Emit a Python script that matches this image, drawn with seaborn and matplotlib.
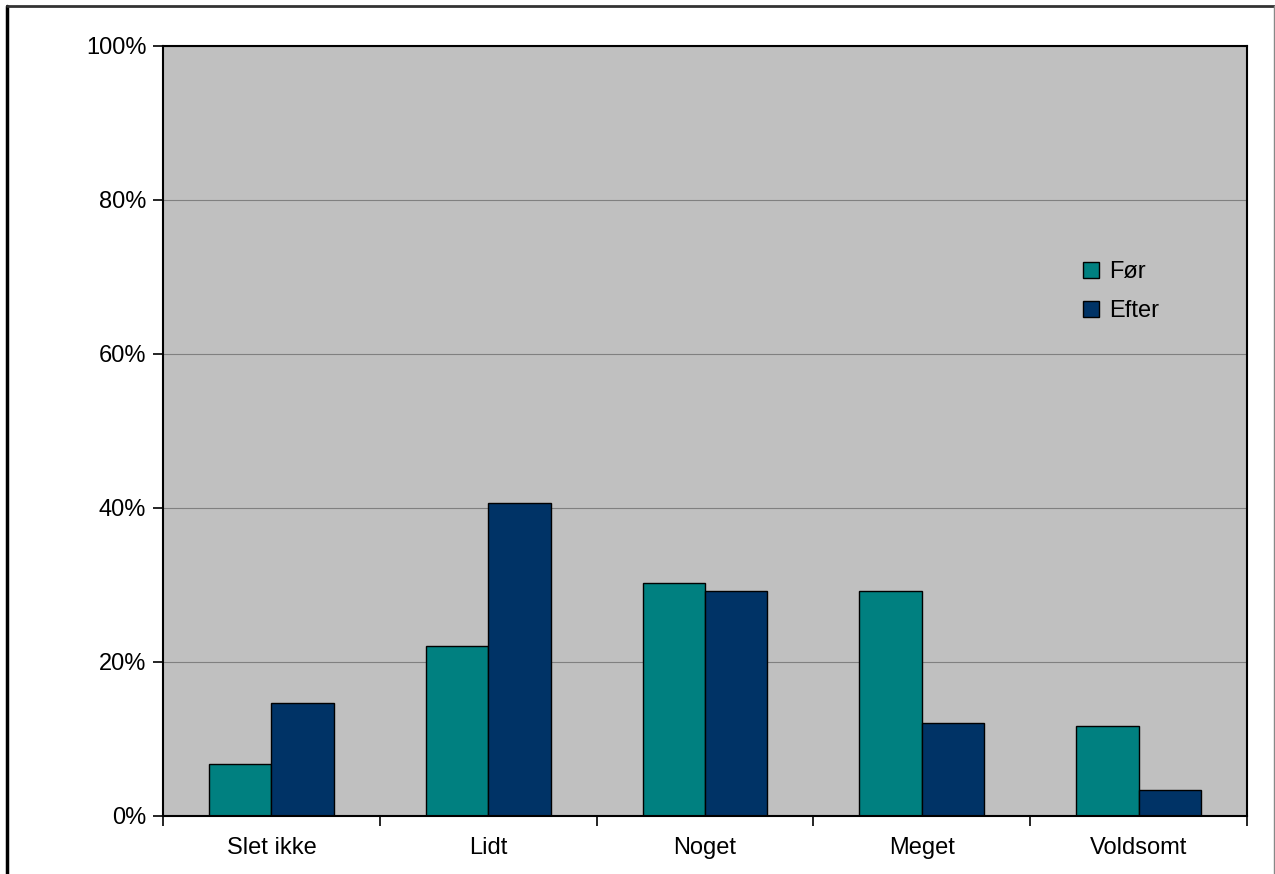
import pandas as pd
import seaborn as sns
import matplotlib.pyplot as plt
from matplotlib.lines import Line2D
from matplotlib.ticker import FuncFormatter

# data (percent)
categories = ["Slet ikke", "Lidt", "Noget", "Meget", "Voldsomt"]
foer = [6.7, 22.1, 30.3, 29.2, 11.7]
efter = [14.7, 40.7, 29.2, 12.1, 3.4]
series = ["Før", "Efter"]
colors = ["#008080", "#003366"]


def build_frame():
    rows = []
    for c, f, e in zip(categories, foer, efter):
        rows.append({"kategori": c, "serie": "Før", "pct": f})
        rows.append({"kategori": c, "serie": "Efter", "pct": e})
    return pd.DataFrame(rows)


def main():
    sns.set_style("white")
    plt.rcParams["font.family"] = ["Liberation Sans", "DejaVu Sans"]
    plt.rcParams["text.color"] = "black"
    plt.rcParams["xtick.color"] = "black"
    plt.rcParams["ytick.color"] = "black"
    plt.rcParams["xtick.labelcolor"] = "black"
    plt.rcParams["ytick.labelcolor"] = "black"

    df = build_frame()
    fig = plt.figure(figsize=(12.75, 8.74), dpi=100)
    ax = fig.add_axes([163 / 1275, 1 - 816 / 874, (1247 - 163) / 1275, (816 - 46) / 874])

    sns.barplot(
        data=df, x="kategori", y="pct", hue="serie", hue_order=series,
        palette=colors, width=0.575, gap=0, edgecolor="black", linewidth=1.0,
        saturation=1, ax=ax,
    )

    ax.set_facecolor("#c0c0c0")
    ax.set_ylim(0, 100)
    ax.set_xlim(-0.5, len(categories) - 0.5)
    ax.set_yticks([0, 20, 40, 60, 80, 100])
    ax.yaxis.set_major_formatter(FuncFormatter(lambda v, p: f"{v:.0f}%"))
    ax.grid(axis="y", color="#808080", linewidth=0.8)
    ax.set_axisbelow(True)
    ax.set_xlabel("")
    ax.set_ylabel("")

    # category labels centred, tick marks on the boundaries
    ax.set_xticks(range(len(categories)))
    ax.set_xticklabels(categories)
    ax.set_xticks([i - 0.5 for i in range(len(categories) + 1)], minor=True)
    ax.tick_params(axis="x", which="major", length=0, pad=15, labelsize=17)
    ax.tick_params(axis="x", which="minor", length=7, width=1.2, direction="out", bottom=True)
    ax.tick_params(axis="y", length=7, width=1.2, direction="out", left=True, pad=5, labelsize=17)

    for s in ax.spines.values():
        s.set_visible(True)
        s.set_color("black")
        s.set_linewidth(1.5)

    leg = ax.legend(
        loc="upper left", bbox_to_anchor=(0.829, 0.748), frameon=False,
        fontsize=17, handlelength=0.7, handleheight=0.7, handletextpad=0.4,
        labelspacing=0.72,
    )
    for h in leg.legend_handles:
        h.set_edgecolor("black")
        h.set_linewidth(1.0)

    # outer chart frame
    fig.add_artist(Line2D([7 / 1275, 7 / 1275], [0, 1 - 6 / 874], color="black", linewidth=2.5))
    fig.add_artist(Line2D([7 / 1275, 1274 / 1275], [1 - 6 / 874, 1 - 6 / 874], color="#333333", linewidth=2))
    fig.add_artist(Line2D([1273.5 / 1275, 1273.5 / 1275], [0, 1 - 6 / 874], color="#888888", linewidth=1))

    fig.savefig("out.png", dpi=100, facecolor="white")


if __name__ == "__main__":
    main()
